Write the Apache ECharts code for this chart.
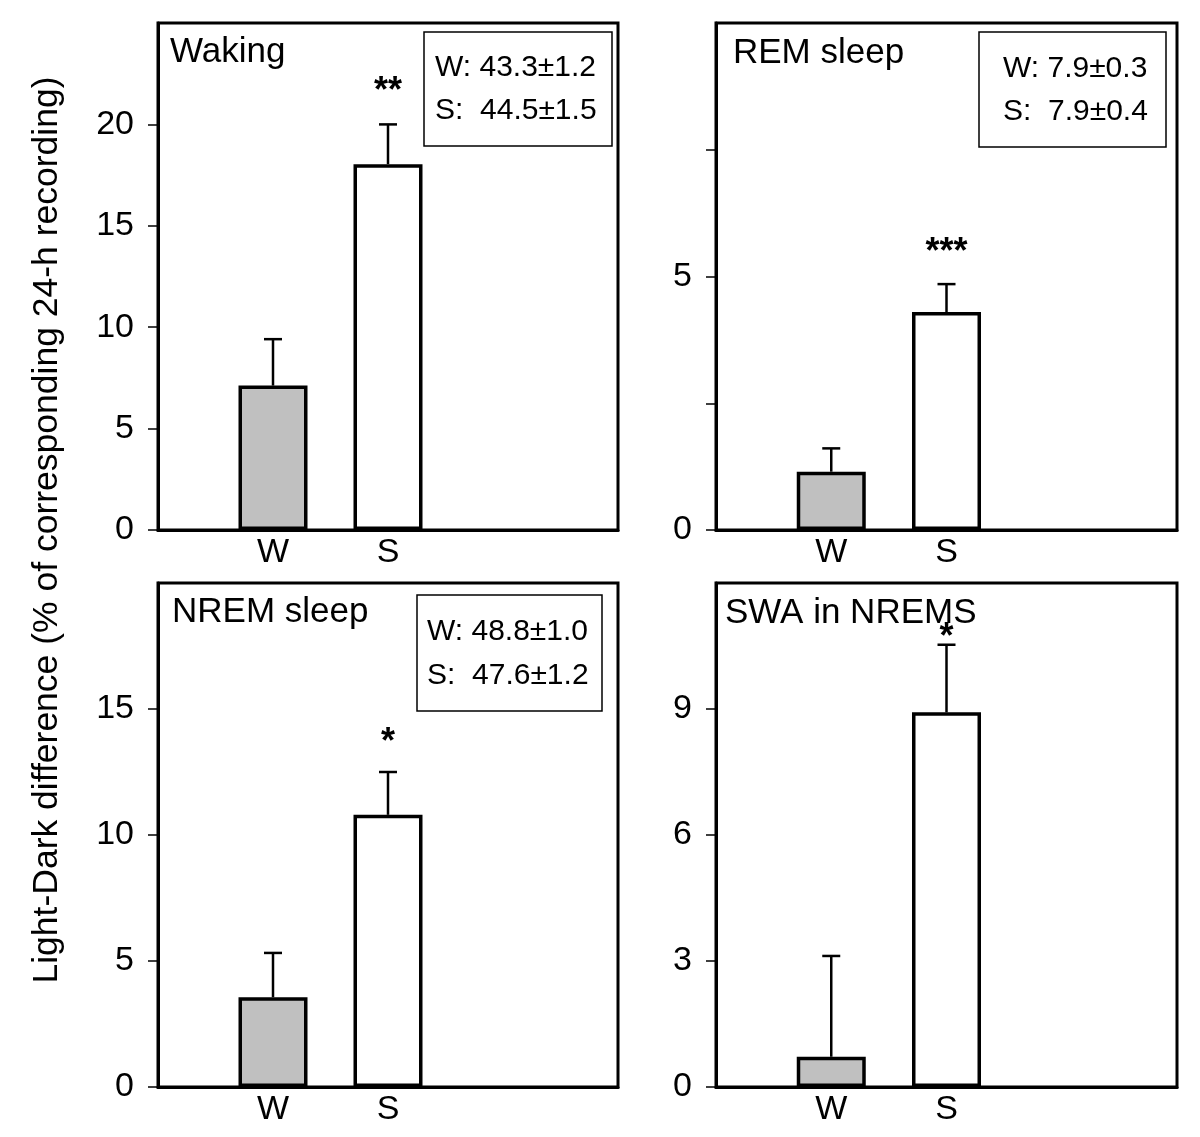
<!DOCTYPE html>
<html>
<head>
<meta charset="utf-8">
<script src="https://cdn.jsdelivr.net/npm/echarts@6/dist/echarts.min.js"></script>
<style>
html,body{margin:0;padding:0;background:#fff;}
#chart{width:1200px;height:1137px;}
</style>
</head>
<body>
<div id="chart"></div>
<script>
// ---- data ----
const categories = ['', 'W', 'S', '', ''];
const panelTitles = ['Waking', 'REM sleep', 'NREM sleep', 'SWA in NREMS'];
const wakingMean = [7.12, 18.04];
const wakingErr = [2.29, 1.96];
const remMean = [1.15, 4.30];
const remErr = [0.46, 0.55];
const nremMean = [3.56, 10.80];
const nremErr = [1.76, 1.70];
const swaMean = [0.72, 8.92];
const swaErr = [2.40, 1.61];
const wakingStars = ['', '**'];
const remStars = ['', '***'];
const nremStars = ['', '*'];
const swaStars = ['', '*'];
const wakingBox = ['W: 43.3\u00b11.2', 'S:  44.5\u00b11.5'];
const remBox = ['W: 7.9\u00b10.3', 'S:  7.9\u00b10.4'];
const nremBox = ['W: 48.8\u00b11.0', 'S:  47.6\u00b11.2'];
const yMax = [25, 10, 20, 12];
const yInterval = [5, 2.5, 5, 3];
const yLabelStep = [5, 5, 5, 3];
const yAxisTitle = 'Light-Dark difference (% of corresponding 24-h recording)';

// ---- layout / style ----
const FONT = '"Liberation Sans", Arial, sans-serif';
const panels = [
  {mean: wakingMean, err: wakingErr, stars: wakingStars, box: wakingBox,
   grid: {left: 158, top: 23, width: 460, height: 507},
   title: [170, 52], rect: [424, 32, 188, 114], text: [435, 67.5], starGap: 32},
  {mean: remMean, err: remErr, stars: remStars, box: remBox,
   grid: {left: 716, top: 23, width: 461, height: 507},
   title: [733, 53], rect: [979, 32, 187, 115], text: [1003, 68.5], starGap: 31},
  {mean: nremMean, err: nremErr, stars: nremStars, box: nremBox,
   grid: {left: 158, top: 583, width: 460, height: 504},
   title: [172, 612], rect: [417, 595, 185, 116], text: [427, 632], starGap: 29},
  {mean: swaMean, err: swaErr, stars: swaStars, box: null,
   grid: {left: 716, top: 583, width: 461, height: 504},
   title: [725, 613], rect: null, text: null, starGap: 7}
];
const barColors = ['#c0c0c0', '#ffffff'];

const grids = [], xAxes = [], yAxes = [], series = [], graphics = [];
panels.forEach((p, i) => {
  grids.push(Object.assign({show: true, borderColor: '#000', borderWidth: 3,
    backgroundColor: 'transparent'}, p.grid));
  xAxes.push({
    type: 'category', gridIndex: i, data: categories, boundaryGap: false,
    axisLine: {show: true, lineStyle: {color: '#000', width: 3}},
    axisTick: {show: false},
    axisLabel: {color: '#000', fontSize: 34, fontFamily: FONT, margin: 6, interval: 0},
    splitLine: {show: false}
  });
  const step = yLabelStep[i];
  yAxes.push({
    type: 'value', gridIndex: i, min: 0, max: yMax[i], interval: yInterval[i],
    axisLine: {show: true, lineStyle: {color: '#000', width: 3}},
    axisTick: {show: true, length: 10, lineStyle: {color: '#000', width: 1.5}},
    axisLabel: {color: '#000', fontSize: 34, fontFamily: FONT, margin: 24,
      showMaxLabel: false,
      formatter: v => (Math.abs(v / step - Math.round(v / step)) < 1e-9 ? String(v) : '')},
    splitLine: {show: false}
  });
  series.push({
    type: 'bar', xAxisIndex: i, yAxisIndex: i, barWidth: 69, z: 2,
    data: p.mean.map((m, k) => ({value: [k + 1, m],
      itemStyle: {color: barColors[k], borderColor: '#000', borderWidth: 3.5}})),
    animation: false
  });
  series.push({
    type: 'custom', xAxisIndex: i, yAxisIndex: i, z: 3,
    data: p.mean.map((m, k) => [k + 1, m, p.err[k]]),
    encode: {x: 0, y: 1},
    renderItem: (params, api) => {
      const x = api.value(0), m = api.value(1), e = api.value(2);
      const base = api.coord([x, m]);
      const top = api.coord([x, m + e]);
      const children = [
        {type: 'line', shape: {x1: base[0], y1: base[1], x2: top[0], y2: top[1]},
         style: {stroke: '#000', lineWidth: 2.5}},
        {type: 'line', shape: {x1: top[0] - 9, y1: top[1], x2: top[0] + 9, y2: top[1]},
         style: {stroke: '#000', lineWidth: 2.5}}
      ];
      const s = p.stars[params.dataIndex];
      if (s) {
        children.push({type: 'text', style: {text: s, x: top[0], y: top[1] - p.starGap,
          align: 'center', verticalAlign: 'middle', fill: '#000',
          font: 'bold 36px ' + FONT}});
      }
      return {type: 'group', children};
    },
    animation: false
  });
  graphics.push({type: 'text', x: p.title[0], y: p.title[1],
    style: {text: panelTitles[i], fill: '#000', font: '35px ' + FONT, verticalAlign: 'middle', align: 'left'}});
  if (p.box) {
    graphics.push({type: 'rect', shape: {x: p.rect[0], y: p.rect[1], width: p.rect[2], height: p.rect[3]},
      style: {fill: '#fff', stroke: '#000', lineWidth: 1.5}, z: 10});
    p.box.forEach((t, k) => {
      graphics.push({type: 'text', x: p.text[0], y: p.text[1] + k * 43.5, z: 11,
        style: {text: t, fill: '#000', font: '30px ' + FONT, verticalAlign: 'middle', align: 'left'}});
    });
  }
});
graphics.push({type: 'text', x: 47, y: 530, rotation: Math.PI / 2,
  style: {text: yAxisTitle, fill: '#000', font: '35.5px ' + FONT, align: 'center', verticalAlign: 'middle'}});

const chart = echarts.init(document.getElementById('chart'), null, {renderer: 'canvas'});
chart.setOption({
  animation: false,
  backgroundColor: '#fff',
  grid: grids, xAxis: xAxes, yAxis: yAxes, series: series, graphic: graphics
});
</script>
</body>
</html>
